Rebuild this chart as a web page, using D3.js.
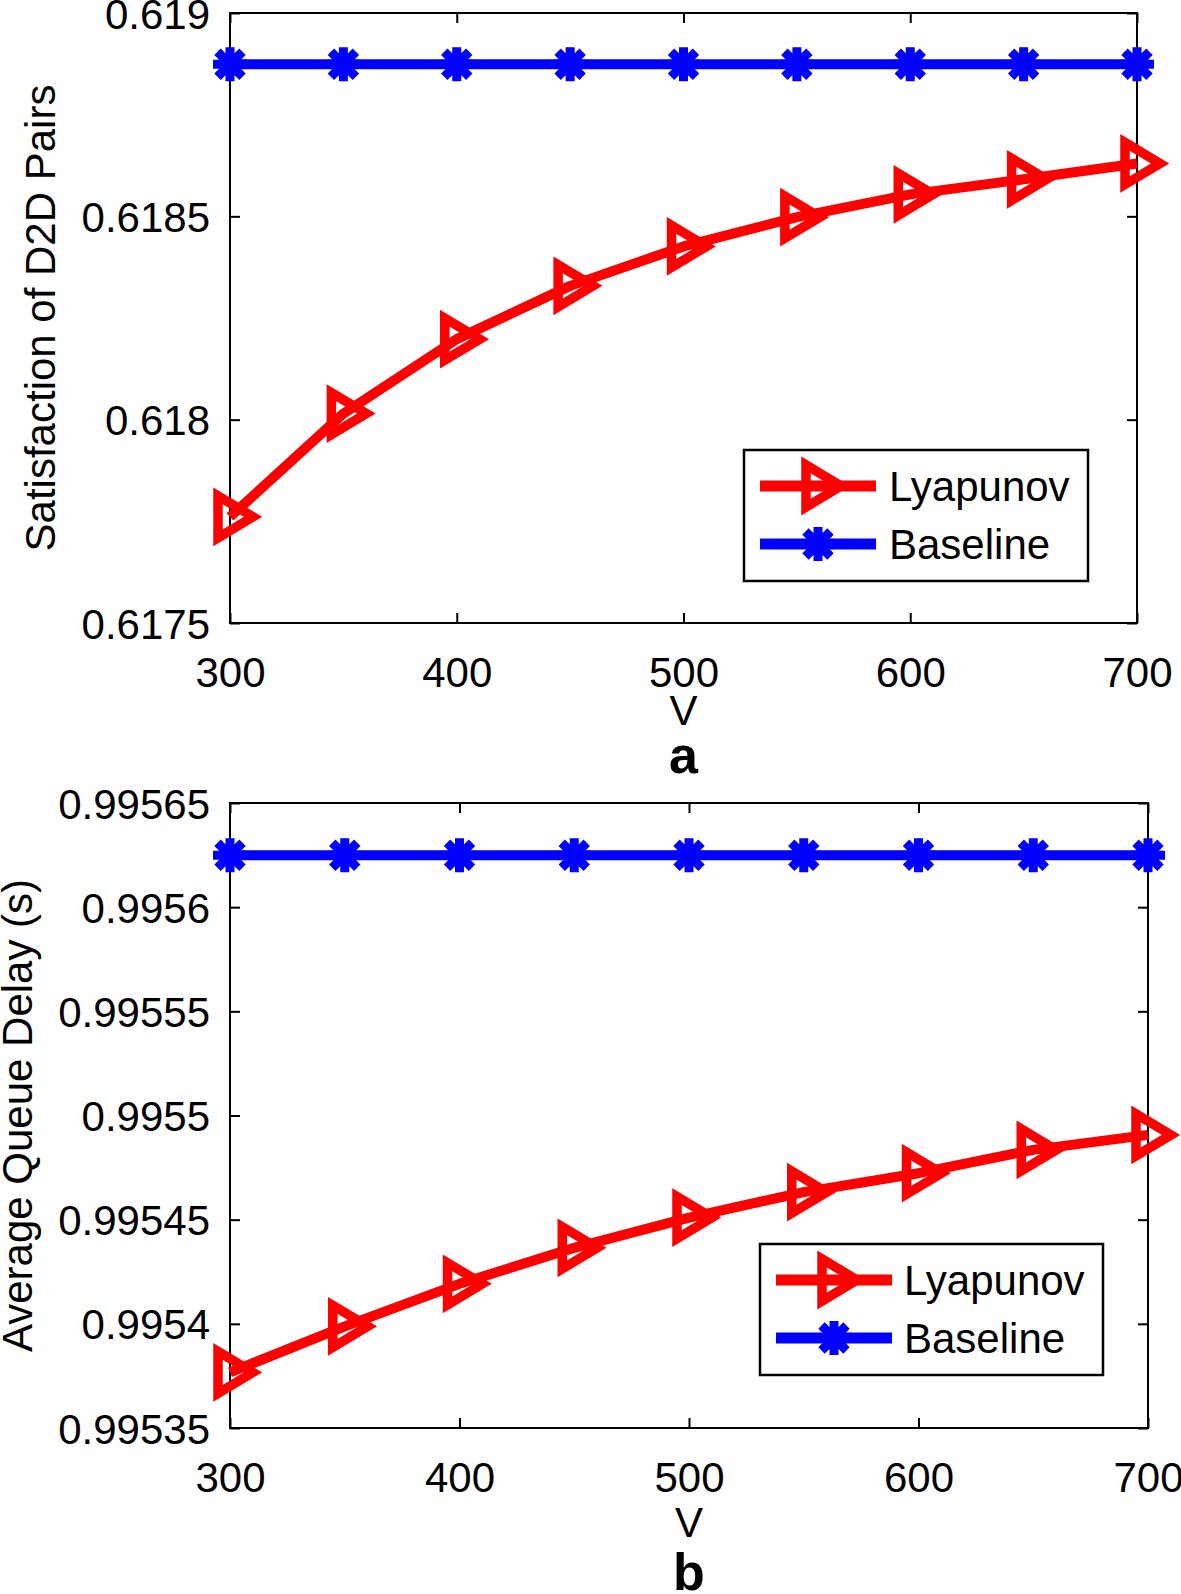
<!DOCTYPE html>
<html>
<head>
<meta charset="utf-8">
<script src="https://cdn.jsdelivr.net/npm/d3@7"></script>
<style>
  html, body { margin: 0; padding: 0; background: #fff; }
  svg text { font-family: "Liberation Sans", Arial, Helvetica, sans-serif; fill: #000; }
</style>
</head>
<body>
<svg id="chart" width="1181" height="1594"></svg>
<script>
// ---- data ----
const V = [300, 350, 400, 450, 500, 550, 600, 650, 700];
const xTicks = [300, 400, 500, 600, 700];

const satLyapunov = [0.617761, 0.618015, 0.618198, 0.618329, 0.618426, 0.618498, 0.618554, 0.618591, 0.618630];
const satBaseline = [0.618874, 0.618874, 0.618874, 0.618874, 0.618874, 0.618874, 0.618874, 0.618874, 0.618874];
const satTicks = [0.6175, 0.618, 0.6185, 0.619];
const satTickLabels = ["0.6175", "0.618", "0.6185", "0.619"];

const delayLyapunov = [0.9953767, 0.9953988, 0.9954192, 0.9954365, 0.9954510, 0.9954632, 0.9954723, 0.9954835, 0.9954907];
const delayBaseline = [0.9956249, 0.9956249, 0.9956249, 0.9956249, 0.9956249, 0.9956249, 0.9956249, 0.9956249, 0.9956249];
const delayTicks = [0.99535, 0.9954, 0.99545, 0.9955, 0.99555, 0.9956, 0.99565];
const delayTickLabels = ["0.99535", "0.9954", "0.99545", "0.9955", "0.99555", "0.9956", "0.99565"];

const seriesNames = ["Lyapunov", "Baseline"];
const seriesColors = ["#ff0000", "#0000ff"];

// ---- drawing ----
const svg = d3.select("#chart");
const FS = 42;
const triPath = "M-12,-21L-12,21L23,0Z";
const starPath = "M-17,0L17,0M0,-17L0,17M-12.5,-12.5L12.5,12.5M-12.5,12.5L12.5,-12.5";

function drawMarker(g, type, x, y, color) {
  if (type === 0) {
    g.append("path").attr("d", triPath).attr("transform", `translate(${x},${y})`)
      .attr("fill", "none").attr("stroke", color).attr("stroke-width", 9.5)
      .attr("stroke-linejoin", "miter").attr("stroke-miterlimit", 10);
  } else {
    g.append("path").attr("d", starPath).attr("transform", `translate(${x},${y})`)
      .attr("fill", "none").attr("stroke", color).attr("stroke-width", 9)
      .attr("stroke-linecap", "butt");
  }
}

function panel(cfg) {
  const {left, right, top, bottom, yDomain, yTicks, yLabels, lyap, base, yTitle, yTitleX,
         xLabelBase, vBase, letter, letterBase, legend} = cfg;
  const x = d3.scaleLinear().domain([300, 700]).range([left, right]);
  const y = d3.scaleLinear().domain(yDomain).range([bottom, top]);
  const g = svg.append("g");

  // axes with inward ticks on all four sides
  const tickLen = 10;
  const axB = d3.axisBottom(x).tickValues(xTicks).tickSize(-tickLen).tickFormat(d3.format("d")).tickPadding(0);
  const axT = d3.axisTop(x).tickValues(xTicks).tickSize(-tickLen).tickFormat("");
  const axL = d3.axisLeft(y).tickValues(yTicks).tickSize(-tickLen).tickFormat((d, i) => yLabels[i]);
  const axR = d3.axisRight(y).tickValues(yTicks).tickSize(-tickLen).tickFormat("");

  const gb = g.append("g").attr("transform", `translate(0,${bottom})`).call(axB);
  const gt = g.append("g").attr("transform", `translate(0,${top})`).call(axT);
  const gl = g.append("g").attr("transform", `translate(${left},0)`).call(axL);
  const gr = g.append("g").attr("transform", `translate(${right},0)`).call(axR);
  [gb, gt, gl, gr].forEach(a => {
    a.select(".domain").remove();
    a.selectAll(".tick line").attr("stroke", "#000").attr("stroke-width", 2);
  });
  gb.selectAll(".tick text").attr("font-size", FS).attr("dy", null).attr("y", xLabelBase - bottom)
    .attr("font-family", "Liberation Sans, Arial, sans-serif").attr("fill", "#000");
  gl.selectAll(".tick text").attr("font-size", FS).attr("x", -20).attr("dy", "0.36em")
    .attr("font-family", "Liberation Sans, Arial, sans-serif").attr("fill", "#000");

  // box
  g.append("rect").attr("x", left).attr("y", top).attr("width", right - left).attr("height", bottom - top)
    .attr("fill", "none").attr("stroke", "#000").attr("stroke-width", 2);

  // lines
  const line = d3.line().x((d, i) => x(V[i])).y(d => y(d));
  [lyap, base].forEach((arr, si) => {
    g.append("path").datum(arr).attr("d", line).attr("fill", "none")
      .attr("stroke", seriesColors[si]).attr("stroke-width", 10).attr("stroke-linejoin", "round");
    arr.forEach((v, i) => drawMarker(g, si, x(V[i]), y(v), seriesColors[si]));
  });

  // legend
  const L = legend;
  g.append("rect").attr("x", L.x0).attr("y", L.y0).attr("width", L.x1 - L.x0).attr("height", L.y1 - L.y0)
    .attr("fill", "#fff").attr("stroke", "#000").attr("stroke-width", 2.5);
  seriesNames.forEach((name, si) => {
    const ly = L.rows[si];
    g.append("line").attr("x1", L.lx0).attr("x2", L.lx1).attr("y1", ly).attr("y2", ly)
      .attr("stroke", seriesColors[si]).attr("stroke-width", 11);
    drawMarker(g, si, (L.lx0 + L.lx1) / 2, ly, seriesColors[si]);
    g.append("text").attr("x", L.tx).attr("y", ly + 15).attr("font-size", FS).text(name);
  });

  // titles
  const cy = (top + bottom) / 2;
  g.append("text").attr("transform", `translate(${yTitleX},${cy}) rotate(-90)`)
    .attr("text-anchor", "middle").attr("font-size", FS).text(yTitle);
  const cx = (left + right) / 2;
  g.append("text").attr("x", cx).attr("y", vBase).attr("text-anchor", "middle").attr("font-size", FS).text("V");
  g.append("text").attr("x", cx).attr("y", letterBase).attr("text-anchor", "middle")
    .attr("font-size", 52).attr("font-weight", "bold").text(letter);
}

panel({
  left: 230, right: 1137, top: 13, bottom: 623,
  yDomain: [0.6175, 0.619], yTicks: satTicks, yLabels: satTickLabels,
  lyap: satLyapunov, base: satBaseline,
  yTitle: "Satisfaction of D2D Pairs", yTitleX: 55,
  xLabelBase: 687, vBase: 725, letter: "a", letterBase: 773,
  legend: {x0: 744, x1: 1088, y0: 450, y1: 581, lx0: 760, lx1: 876, rows: [486, 544], tx: 889}
});

panel({
  left: 230, right: 1148, top: 803, bottom: 1428,
  yDomain: [0.99535, 0.99565], yTicks: delayTicks, yLabels: delayTickLabels,
  lyap: delayLyapunov, base: delayBaseline,
  yTitle: "Average Queue Delay (s)", yTitleX: 32,
  xLabelBase: 1492, vBase: 1537, letter: "b", letterBase: 1590,
  legend: {x0: 760, x1: 1103, y0: 1244, y1: 1375, lx0: 776, lx1: 892, rows: [1280, 1338], tx: 904}
});
</script>
</body>
</html>
